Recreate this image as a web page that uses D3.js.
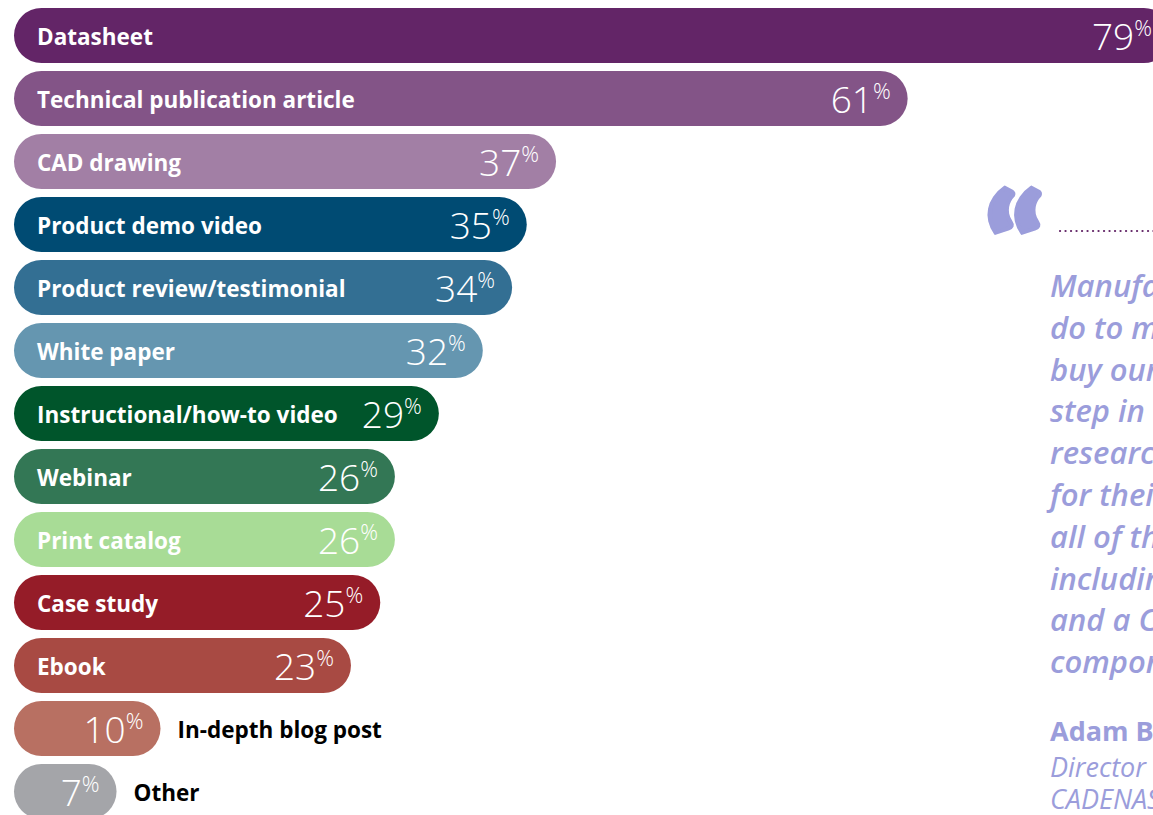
<!DOCTYPE html>
<html>
<head>
<meta charset="utf-8">
<script src="https://cdn.jsdelivr.net/npm/d3@7"></script>
<style>
  html, body { margin: 0; padding: 0; background: #ffffff; }
  svg { display: block; }
</style>
</head>
<body>
<svg id="chart" width="1153" height="815"></svg>
<script>
// Content types used, share of respondents (%)
const categories = [
  "Datasheet",
  "Technical publication article",
  "CAD drawing",
  "Product demo video",
  "Product review/testimonial",
  "White paper",
  "Instructional/how-to video",
  "Webinar",
  "Print catalog",
  "Case study",
  "Ebook",
  "In-depth blog post",
  "Other"
];
const values = [79, 61, 37, 35, 34, 32, 29, 26, 26, 25, 23, 10, 7];
const barColors = [
  "#632567", "#835487", "#a27fa5",
  "#004b73", "#336f93", "#6596b0",
  "#00552b", "#337755", "#a8dc96",
  "#951c28", "#a84a43", "#b87062",
  "#a4a5a9"
];

// Pull quote shown beside the bars
const quoteLines = [
  "Manufacturers must",
  "do to make it easy to",
  "buy our products is",
  "step in and support the",
  "research engineers do",
  "for their designs, with",
  "all of the product data,",
  "including a datasheet",
  "and a CAD model of the",
  "component."
];
const quoteAuthor = "Adam B.";
const quoteRole = ["Director of Marketing", "CADENAS PARTsolutions"];

const W = 1153, H = 815;
const svg = d3.select("#chart");

const x = d3.scaleLinear().domain([0, 100]).range([14, 14 + 1465]);
const y = d3.scaleBand().domain(categories).range([8, 819]).paddingInner(8 / 63).paddingOuter(0);
const bh = y.bandwidth();
const r = bh / 2;

const rows = svg.append("g").selectAll("g.row")
  .data(categories.map((c, i) => ({ cat: c, val: values[i], color: barColors[i] })))
  .join("g")
  .attr("class", "row")
  .attr("transform", d => `translate(0,${y(d.cat)})`);

rows.append("rect")
  .attr("x", x(0))
  .attr("y", 0)
  .attr("width", d => x(d.val) - x(0))
  .attr("height", bh)
  .attr("rx", r).attr("ry", r)
  .attr("fill", d => d.color);

const pad = 17;
const labelFont = "'Open Sans', 'Noto Sans', sans-serif";

// value label: big light digits with a small raised percent sign
const valText = rows.append("text")
  .attr("class", "val")
  .attr("text-anchor", "end")
  .attr("y", bh / 2 + 14.5)
  .attr("x", d => Math.min(x(d.val) - pad, W - 1))
  .attr("fill", "#ffffff")
  .style("font-family", labelFont);
valText.append("tspan")
  .style("font-size", "37px").style("font-weight", 300)
  .text(d => d.val);
valText.append("tspan")
  .attr("dy", -14)
  .style("font-size", "22px").style("font-weight", 300)
  .text("%");

// category name: inside the bar when it fits, otherwise just right of it
rows.append("text")
  .attr("class", "cat")
  .attr("y", bh / 2 + 9)
  .style("font-family", labelFont)
  .style("font-size", "22.5px")
  .style("font-weight", 700)
  .text(d => d.cat)
  .each(function (d) {
    const t = d3.select(this);
    const catW = this.getComputedTextLength();
    const valNode = d3.select(this.parentNode).select("text.val").node();
    const valW = valNode.getComputedTextLength();
    const barW = x(d.val) - x(0);
    if (23 + catW + 10 + valW + pad <= barW) {
      t.attr("x", x(0) + 23).attr("fill", "#ffffff");
    } else {
      t.attr("x", x(d.val) + pad).attr("fill", "#000000");
    }
  });

// Pull quote
const qColor = "#9b9ddb";
const quote = svg.append("g");
quote.append("text")
  .attr("transform", "translate(984,296) scale(1.12,1)")
  .attr("fill", qColor)
  .attr("stroke", qColor)
  .attr("stroke-width", 4)
  .attr("stroke-linejoin", "miter")
  .style("font-family", "Lato, sans-serif")
  .style("font-weight", 900)
  .style("font-size", "138px")
  .text("\u201C");

quote.append("line")
  .attr("x1", 1060).attr("x2", W + 10)
  .attr("y1", 231).attr("y2", 231)
  .attr("stroke", "#632567")
  .attr("stroke-width", 2.2)
  .attr("stroke-linecap", "round")
  .attr("stroke-dasharray", "0.1 5.4");

quote.append("g").selectAll("text")
  .data(quoteLines)
  .join("text")
  .attr("x", 1050)
  .attr("y", (d, i) => 297 + i * 41.8)
  .attr("fill", qColor)
  .style("font-family", "'Open Sans', sans-serif")
  .style("font-style", "italic")
  .style("font-weight", 600)
  .style("font-size", "31px")
  .text(d => d);

quote.append("text")
  .attr("x", 1050).attr("y", 741)
  .attr("fill", qColor)
  .style("font-family", "'Open Sans', sans-serif")
  .style("font-weight", 700)
  .style("font-size", "27px")
  .text(quoteAuthor);

quote.append("g").selectAll("text")
  .data(quoteRole)
  .join("text")
  .attr("x", 1050)
  .attr("y", (d, i) => 777 + i * 32)
  .attr("fill", qColor)
  .style("font-family", "'Open Sans', sans-serif")
  .style("font-style", "italic")
  .style("font-weight", 400)
  .style("font-size", "27px")
  .text(d => d);
</script>
</body>
</html>
